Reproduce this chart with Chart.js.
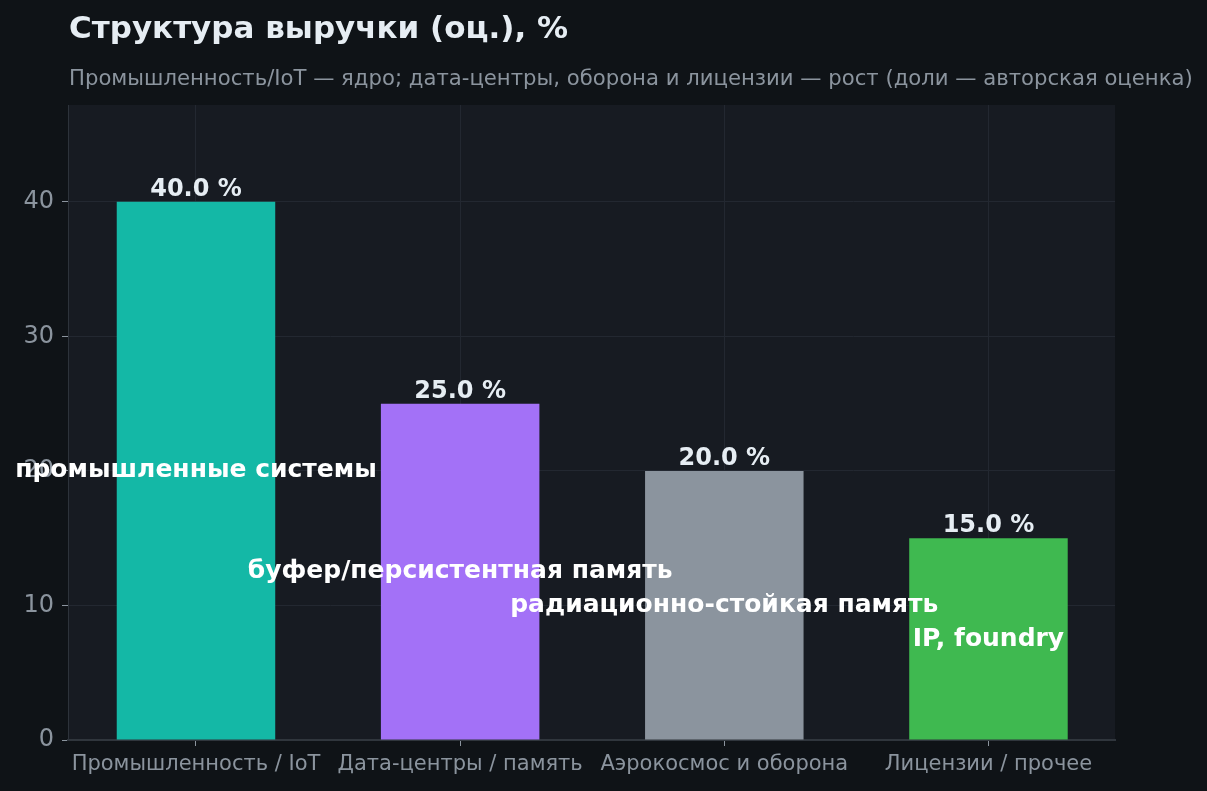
<!DOCTYPE html>
<html><head><meta charset="utf-8">
<script src="https://cdn.jsdelivr.net/npm/chart.js@4"></script>
<style>html,body{margin:0;padding:0;background:#0f1317;}#wrap{width:1207px;height:791px;}</style>
</head><body><div id="wrap"><canvas id="c" width="1207" height="791"></canvas></div>
<script>
const titleText = 'Структура выручки (оц.), %';
const subtitleText = 'Промышленность/IoT — ядро; дата-центры, оборона и лицензии — рост (доли — авторская оценка)';
const categories = ['Промышленность / IoT', 'Дата-центры / память', 'Аэрокосмос и оборона', 'Лицензии / прочее'];
const positions = [0, 1, 2, 3];
const shares = [40, 25, 20, 15];
const innerLabels = ['промышленные системы', 'буфер/персистентная память', 'радиационно-стойкая память', 'IP, foundry'];
const barColors = ['#14b8a6', '#a371f7', '#8b949e', '#3fb950'];
const yTicks = [0, 10, 20, 30, 40];

const FONT = '"DejaVu Sans", sans-serif';

const decor = {
  id: 'decor',
  beforeDraw(chart) {
    const {ctx, chartArea: a} = chart;
    ctx.save();
    ctx.fillStyle = '#0f1317';
    ctx.fillRect(0, 0, chart.width, chart.height);
    ctx.fillStyle = '#171b22';
    ctx.fillRect(a.left, a.top, a.right - a.left, a.bottom - a.top);
    ctx.restore();
  },
  afterDraw(chart) {
    const {ctx, chartArea: a, scales} = chart;
    ctx.save();
    ctx.textAlign = 'left';
    ctx.textBaseline = 'alphabetic';
    ctx.fillStyle = '#e6edf3';
    ctx.font = 'bold 31px ' + FONT;
    ctx.fillText(titleText, a.left + 1, 38);
    ctx.fillStyle = '#8b949e';
    ctx.font = '21.2px ' + FONT;
    ctx.fillText(subtitleText, a.left + 1, 85);

    const meta = chart.getDatasetMeta(0);
    meta.data.forEach((bar, i) => {
      ctx.textAlign = 'center';
      ctx.textBaseline = 'alphabetic';
      ctx.fillStyle = '#e6edf3';
      ctx.font = 'bold 24px ' + FONT;
      ctx.fillText(shares[i].toFixed(1) + ' %', bar.x, bar.y - 6);
      ctx.textBaseline = 'middle';
      ctx.fillStyle = '#ffffff';
      ctx.font = 'bold 25px ' + FONT;
      ctx.fillText(innerLabels[i], bar.x, scales.y.getPixelForValue(shares[i] / 2));
    });
    ctx.restore();
  }
};

new Chart(document.getElementById('c'), {
  type: 'bar',
  data: {
    datasets: [{
      data: positions.map((p, i) => ({x: p, y: shares[i]})),
      backgroundColor: barColors,
      borderWidth: 0,
      barPercentage: 0.6,
      categoryPercentage: 1.0
    }]
  },
  options: {
    responsive: false,
    animation: false,
    devicePixelRatio: 1,
    layout: {padding: {top: 105, right: 92, left: 0, bottom: 0}},
    plugins: {legend: {display: false}, title: {display: false}, tooltip: {enabled: false}},
    scales: {
      x: {
        type: 'linear',
        offset: false,
        min: -0.4845, max: 3.479,
        afterBuildTicks(s) { s.ticks = positions.map(v => ({value: v})); },
        grid: {offset: false, color: '#232831', tickColor: '#8b949e', tickLength: 6, drawTicks: true},
        border: {color: '#30363d', width: 2},
        ticks: {color: '#8b949e', font: {family: FONT, size: 21}, padding: 6, maxRotation: 0, autoSkip: false,
                callback: (v) => categories[v]},
        afterFit(s) { s.height = 51; }
      },
      y: {
        min: 0, max: 47.2,
        afterBuildTicks(s) { s.ticks = yTicks.map(v => ({value: v})); },
        grid: {color: '#232831', tickColor: '#8b949e', tickLength: 6},
        border: {color: '#2d333b', width: 1},
        ticks: {color: '#8b949e', font: {family: FONT, size: 24}, padding: 8},
        afterFit(s) { s.width = 68; }
      }
    }
  },
  plugins: [decor]
});
</script></body></html>
